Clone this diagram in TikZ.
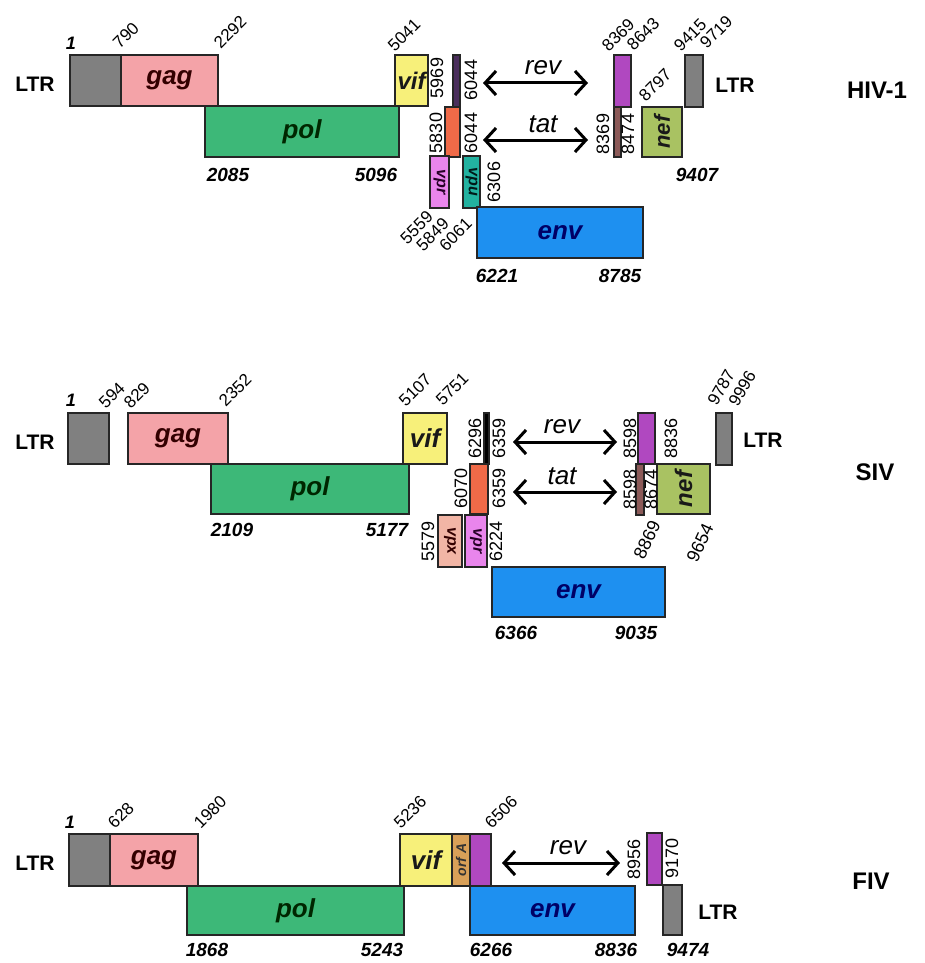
\documentclass[tikz,border=0pt]{standalone}
\usepackage{fontspec}
\setmainfont{Liberation Sans}
\usetikzlibrary{arrows.meta}
\definecolor{ltrgray}{HTML}{808080}
\definecolor{gagpink}{HTML}{F4A3A8}
\definecolor{polgreen}{HTML}{3DB878}
\definecolor{vifyellow}{HTML}{F7F07A}
\definecolor{envblue}{HTML}{1E90F0}
\definecolor{revpurple}{HTML}{B048C0}
\definecolor{tatorange}{HTML}{F06A48}
\definecolor{nefolive}{HTML}{A9C262}
\definecolor{vprpink}{HTML}{E985EC}
\definecolor{vputeal}{HTML}{22B2A0}
\definecolor{vpxsalmon}{HTML}{F2B5A5}
\definecolor{tatbrown}{HTML}{8C5A58}
\definecolor{orftan}{HTML}{D9A058}
\definecolor{revdark}{HTML}{4A2E5C}
\newcommand\gbx[6]{\node[gbox,fill=#6,anchor=north west,minimum width={(#4-#2)*1pt},minimum height={(#5-#3)*1pt}] (#1) at (#2,#3) {};}
\tikzset{
 gbox/.style={draw=black!85, line width=2.5pt, inner sep=0pt, outer sep=0pt},
 glab/.style={font=\bfseries\itshape\fontsize{26}{26}\selectfont, inner sep=0pt},
 slab/.style={font=\bfseries\itshape\fontsize{18}{18}\selectfont, inner sep=0pt},
 ltr/.style={font=\bfseries\fontsize{21}{21}\selectfont, inner sep=0pt},
 ttl/.style={font=\bfseries\fontsize{24}{24}\selectfont, inner sep=0pt},
 bnum/.style={font=\bfseries\itshape\fontsize{19}{19}\selectfont, inner sep=0pt},
 tnum/.style={font=\fontsize{17}{17}\selectfont, rotate=45, anchor=south west, inner sep=0pt},
 dnum/.style={font=\fontsize{17}{17}\selectfont, rotate=45, anchor=east, inner sep=0pt},
 vnum/.style={font=\fontsize{18}{18}\selectfont, rotate=90, inner sep=0pt},
 arr/.style={line width=3pt, {Straight Barb[length=11pt,width=24pt]}-{Straight Barb[length=11pt,width=24pt]}},
 alab/.style={font=\itshape\fontsize{26}{26}\selectfont, inner sep=0pt},
}
\begin{document}
\begin{tikzpicture}[x=1pt,y=-1pt]
\useasboundingbox[fill=white] (0,0) rectangle (924,963);
% ================= HIV-1 =================
\gbx{hLTRa}{70}{55}{121}{106}{ltrgray}
\gbx{hgag}{121}{55}{218}{106}{gagpink}
\gbx{hpol}{205}{106}{399}{157}{polgreen}
\gbx{hvif}{395}{55}{428}{106}{vifyellow}
\gbx{hrev1}{453}{55}{460}{107}{revdark}
\gbx{htat1}{445}{107}{460}{157}{tatorange}
\gbx{hvpr}{430}{156}{449}{208}{vprpink}
\gbx{hvpu}{463}{156}{480}{208}{vputeal}
\gbx{henv}{477}{207}{643}{258}{envblue}
\gbx{hrev2}{614}{55}{631}{107}{revpurple}
\gbx{htat2}{614}{107}{621}{157}{tatbrown}
\gbx{hnef}{642}{107}{682}{157}{nefolive}
\gbx{hLTRb}{685}{55}{703}{107}{ltrgray}
\node[glab,text=black!80!red] (hgagL) at (hgag) {gag};
\node[glab,text=black!85!green] (hpolL) at (hpol) {pol};
\node[glab,text=black!90,font=\bfseries\itshape\fontsize{24}{24}\selectfont] (hvifL) at (hvif) {vif};
\node[glab,text=blue!40!black] (henvL) at (henv) {env};
\node[slab,text=black!90,rotate=90,font=\bfseries\itshape\fontsize{22}{22}\selectfont] (hnefL) at (hnef) {nef};
\node[slab,text=black!70!violet,rotate=-90,font=\bfseries\itshape\fontsize{16}{16}\selectfont] (hvprL) at (hvpr) {vpr};
\node[slab,text=black!80!teal,rotate=-90,font=\bfseries\itshape\fontsize{16}{16}\selectfont] (hvpuL) at (hvpu) {vpu};
\node[ltr] (hLTRt1) at (35,84) {LTR};
\node[ltr] (hLTRt2) at (735,85) {LTR};
\node[ttl] (hT) at (877,90) {HIV-1};
\node[bnum,font=\bfseries\itshape\fontsize{18}{18}\selectfont] (hn1) at (71,43) {1};
\node[tnum] (hn790) at (120,50) {790};
\node[tnum] (hn2292) at (221,50) {2292};
\node[tnum] (hn5041) at (395,53) {5041};
\node[tnum] (hn8369a) at (609,53) {8369};
\node[tnum] (hn8643) at (634,52) {8643};
\node[tnum] (hn9415) at (681,53) {9415};
\node[tnum] (hn9719) at (707,50) {9719};
\node[tnum] (hn8797) at (646,103) {8797};
\node[bnum] (hn2085) at (228,175) {2085};
\node[bnum] (hn5096) at (376,175) {5096};
\node[bnum] (hn9407) at (697,175) {9407};
\node[bnum] (hn6221) at (497,276) {6221};
\node[bnum] (hn8785) at (620,276) {8785};
\node[vnum] (hn5969) at (437,78) {5969};
\node[vnum] (hn5830) at (436,133) {5830};
\node[vnum] (hn6044a) at (471,80) {6044};
\node[vnum] (hn6044b) at (471,133) {6044};
\node[vnum] (hn6306) at (494,182) {6306};
\node[vnum] (hn8369b) at (603,134) {8369};
\node[vnum] (hn8474) at (628,134) {8474};
\node[dnum] (hn5559) at (430,214) {5559};
\node[dnum] (hn5849) at (446,221) {5849};
\node[dnum] (hn6061) at (469,221) {6061};
\coordinate (hrevA) at (483,83);
\coordinate (hrevB) at (588,83);
\coordinate (htatA) at (483,140);
\coordinate (htatB) at (588,140);
\draw[arr] (hrevA) -- (hrevB);
\draw[arr] (htatA) -- (htatB);
\node[alab] (hrevL) at (543,68) {rev};
\node[alab] (htatL) at (543,124) {tat};
% ================= SIV =================
\gbx{sLTRa}{68}{413}{109}{464}{ltrgray}
\gbx{sgag}{128}{413}{228}{464}{gagpink}
\gbx{spol}{211}{464}{409}{514}{polgreen}
\gbx{svif}{403}{413}{447}{464}{vifyellow}
\gbx{srev1}{484}{413}{489}{464}{black}
\gbx{stat1}{470}{464}{488}{514}{tatorange}
\gbx{svpx}{438}{515}{462}{567}{vpxsalmon}
\gbx{svpr}{465}{515}{487}{567}{vprpink}
\gbx{senv}{492}{567}{665}{617}{envblue}
\gbx{srev2}{638}{413}{655}{464}{revpurple}
\gbx{stat2}{636}{464}{644}{515}{tatbrown}
\gbx{snef}{657}{464}{710}{514}{nefolive}
\gbx{sLTRb}{716}{413}{732}{465}{ltrgray}
\node[glab,text=black!80!red] (sgagL) at (sgag) {gag};
\node[glab,text=black!85!green] (spolL) at (spol) {pol};
\node[glab,text=black!90] (svifL) at (svif) {vif};
\node[glab,text=blue!40!black] (senvL) at (senv) {env};
\node[slab,text=black!90,rotate=90,font=\bfseries\itshape\fontsize{24}{24}\selectfont] (snefL) at (snef) {nef};
\node[slab,text=black!80!red,rotate=-90,font=\bfseries\itshape\fontsize{16}{16}\selectfont] (svpxL) at (svpx) {vpx};
\node[slab,text=black!70!violet,rotate=-90,font=\bfseries\itshape\fontsize{16}{16}\selectfont] (svprL) at (svpr) {vpr};
\node[ltr] (sLTRt1) at (35,442) {LTR};
\node[ltr] (sLTRt2) at (763,440) {LTR};
\node[ttl] (sT) at (875,472) {SIV};
\node[bnum,font=\bfseries\itshape\fontsize{18}{18}\selectfont] (sn1) at (71,400) {1};
\node[tnum] (sn594) at (106,410) {594};
\node[tnum] (sn829) at (131,410) {829};
\node[tnum] (sn2352) at (226,408) {2352};
\node[tnum] (sn5107) at (406,408) {5107};
\node[tnum] (sn5751) at (443,407) {5751};
\node[tnum,rotate=15] (sn9787) at (717,407) {9787};
\node[tnum,rotate=15] (sn9996) at (738,408) {9996};
\node[bnum] (sn2109) at (232,530) {2109};
\node[bnum] (sn5177) at (387,530) {5177};
\node[bnum] (sn6366) at (516,633) {6366};
\node[bnum] (sn9035) at (636,633) {9035};
\node[vnum] (sn6296) at (475,438) {6296};
\node[vnum] (sn6359a) at (499,438) {6359};
\node[vnum] (sn6070) at (461,488) {6070};
\node[vnum] (sn6359b) at (499,488) {6359};
\node[vnum] (sn5579) at (428,541) {5579};
\node[vnum] (sn6224) at (496,541) {6224};
\node[vnum] (sn8598a) at (630,438) {8598};
\node[vnum] (sn8598b) at (630,489) {8598};
\node[vnum] (sn8836) at (671,438) {8836};
\node[vnum] (sn8674) at (651,489) {8674};
\node[vnum,rotate=-25] (sn8869) at (647,540) {8869};
\node[vnum,rotate=-25] (sn9654) at (700,543) {9654};
\coordinate (srevA) at (513,442);
\coordinate (srevB) at (617,442);
\coordinate (statA) at (513,492);
\coordinate (statB) at (617,492);
\draw[arr] (srevA) -- (srevB);
\draw[arr] (statA) -- (statB);
\node[alab] (srevL) at (562,427) {rev};
\node[alab] (statL) at (562,476) {tat};
% ================= FIV =================
\gbx{fLTRa}{69}{834}{110}{886}{ltrgray}
\gbx{fgag}{110}{834}{198}{886}{gagpink}
\gbx{fpol}{187}{886}{404}{935}{polgreen}
\gbx{fvif}{400}{834}{452}{886}{vifyellow}
\gbx{forf}{452}{834}{470}{886}{orftan}
\gbx{frev1}{470}{834}{491}{886}{revpurple}
\gbx{fenv}{470}{886}{635}{935}{envblue}
\gbx{frev2}{647}{833}{662}{885}{revpurple}
\gbx{fLTRb}{663}{885}{682}{935}{ltrgray}
\node[glab,text=black!80!red] (fgagL) at (fgag) {gag};
\node[glab,text=black!85!green] (fpolL) at (fpol) {pol};
\node[glab,text=black!90] (fvifL) at (fvif) {vif};
\node[glab,text=blue!40!black] (fenvL) at (fenv) {env};
\node[slab,text=black!80,rotate=90,font=\bfseries\itshape\fontsize{14}{14}\selectfont] (forfL) at (forf) {orf A};
\node[ltr] (fLTRt1) at (35,863) {LTR};
\node[ltr] (fLTRt2) at (718,912) {LTR};
\node[ttl] (fT) at (871,881) {FIV};
\node[bnum,font=\bfseries\itshape\fontsize{18}{18}\selectfont] (fn1) at (70,822) {1};
\node[tnum] (fn628) at (115,830) {628};
\node[tnum] (fn1980) at (201,830) {1980};
\node[tnum] (fn5236) at (401,830) {5236};
\node[tnum] (fn6506) at (492,830) {6506};
\node[bnum] (fn1868) at (207,950) {1868};
\node[bnum] (fn5243) at (382,950) {5243};
\node[bnum] (fn6266) at (491,950) {6266};
\node[bnum] (fn8836) at (616,950) {8836};
\node[bnum] (fn9474) at (688,950) {9474};
\node[vnum] (fn8956) at (634,859) {8956};
\node[vnum] (fn9170) at (672,858) {9170};
\coordinate (frevA) at (502,863);
\coordinate (frevB) at (620,863);
\draw[arr] (frevA) -- (frevB);
\node[alab] (frevL) at (568,848) {rev};
\end{tikzpicture}
\end{document}
